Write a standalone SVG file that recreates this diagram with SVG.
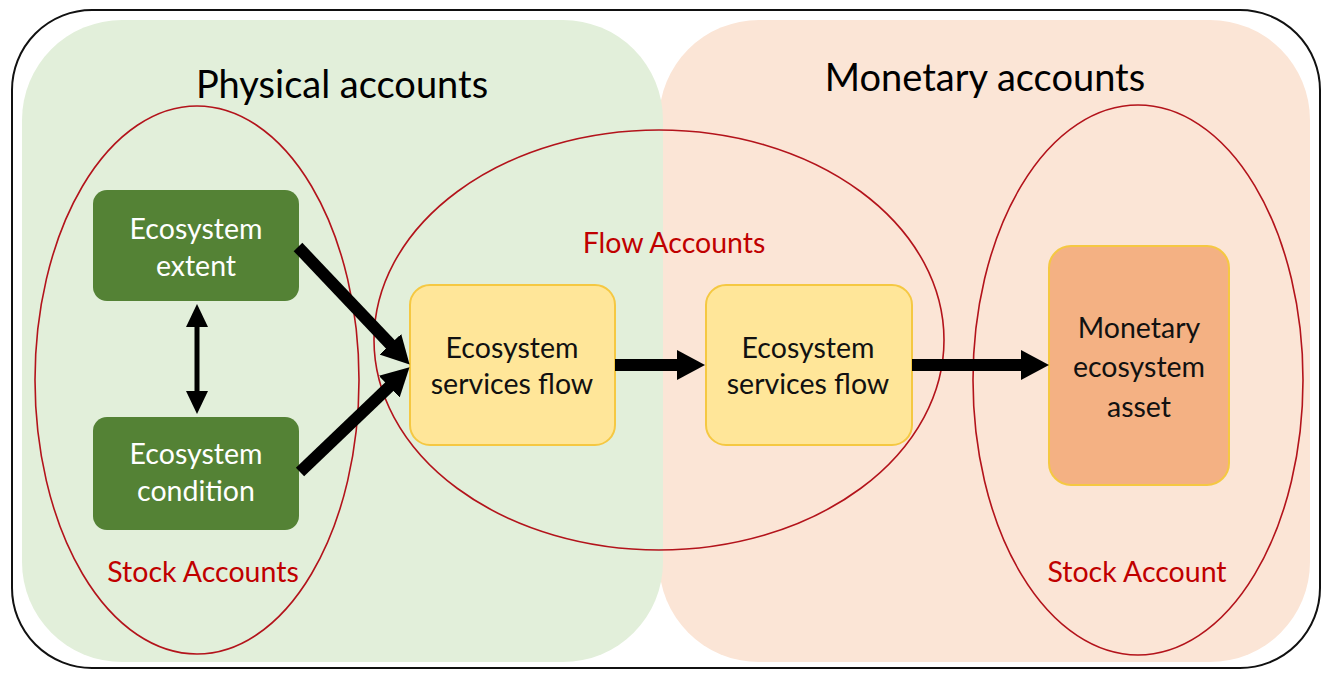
<svg xmlns="http://www.w3.org/2000/svg" width="1328" height="676" viewBox="0 0 1328 676">
<style>
.title{font-family:Lato,"Open Sans",sans-serif;font-size:38px;fill:#000;text-anchor:middle}
.lbl{font-family:Lato,"Open Sans",sans-serif;font-size:28.5px;fill:#c00000;text-anchor:middle}
.wt{font-family:Lato,"Open Sans",sans-serif;font-size:28.5px;fill:#fff;text-anchor:middle}
.bt{font-family:Lato,"Open Sans",sans-serif;font-size:28.5px;fill:#111;text-anchor:middle}
.ell{fill:none;stroke:#b3131b;stroke-width:1.6}
.green{fill:#548235}
.yellow{fill:#ffe699;stroke:#f5c842;stroke-width:2}
.orange{fill:#f4b183;stroke:#f5c842;stroke-width:2}
.thick{stroke:#000;stroke-width:12;fill:none;marker-end:url(#bigHead)}
.thin{stroke:#000;stroke-width:5;fill:none;marker-end:url(#smallHead);marker-start:url(#smallHead)}
</style>
<defs>
<marker id="bigHead" markerUnits="userSpaceOnUse" markerWidth="30" markerHeight="32" refX="1" refY="15" orient="auto" viewBox="0 0 30 32">
<path d="M0,0 L28,15 L0,30 Z" fill="#000"/>
</marker>
<marker id="smallHead" markerUnits="userSpaceOnUse" markerWidth="24" markerHeight="24" refX="1" refY="11" orient="auto-start-reverse" viewBox="0 0 24 24">
<path d="M0,0 L23,11 L0,22 Z" fill="#000"/>
</marker>
</defs>
<rect width="1328" height="676" fill="#fff"/>
<g id="outer">
<rect x="12" y="10" width="1308" height="658" rx="80" ry="80" fill="#fff" stroke="#111" stroke-width="2"/>
</g>
<g id="monetary-panel">
<rect x="659" y="20" width="651" height="642" rx="100" ry="100" fill="#fbe5d6"/>
</g>
<g id="physical-panel">
<rect x="22" y="20" width="641" height="642" rx="100" ry="100" fill="#e2efda"/>
</g>
<text class="title" x="342" y="98">Physical accounts</text>
<text class="title" x="985" y="91">Monetary accounts</text>
<g id="stock-accounts-left">
<ellipse class="ell" cx="197" cy="380" rx="162" ry="274"/>
<text class="lbl" x="203" y="582">Stock Accounts</text>
</g>
<g id="flow-accounts">
<ellipse class="ell" cx="659" cy="340" rx="285" ry="210"/>
<text class="lbl" x="674" y="253">Flow Accounts</text>
</g>
<g id="stock-account-right">
<ellipse class="ell" cx="1138" cy="380" rx="165" ry="275"/>
<text class="lbl" x="1137" y="582">Stock Account</text>
</g>
<g id="ecosystem-extent">
<rect class="green" x="93" y="190" width="206" height="111" rx="14" ry="14"/>
<text class="wt" x="196" y="239">Ecosystem</text>
<text class="wt" x="196" y="276">extent</text>
</g>
<g id="ecosystem-condition">
<rect class="green" x="93" y="417" width="206" height="113" rx="14" ry="14"/>
<text class="wt" x="196" y="464">Ecosystem</text>
<text class="wt" x="196" y="501">condition</text>
</g>
<g id="services-flow-1">
<rect class="yellow" x="410" y="285" width="205" height="160" rx="20" ry="20"/>
<text class="bt" x="512" y="358">Ecosystem</text>
<text class="bt" x="512" y="394">services flow</text>
</g>
<g id="services-flow-2">
<rect class="yellow" x="706" y="285" width="206" height="160" rx="20" ry="20"/>
<text class="bt" x="808" y="358">Ecosystem</text>
<text class="bt" x="808" y="394">services flow</text>
</g>
<g id="monetary-asset">
<rect class="orange" x="1049" y="246" width="180" height="239" rx="22" ry="22"/>
<text class="bt" x="1139" y="338">Monetary</text>
<text class="bt" x="1139" y="377">ecosystem</text>
<text class="bt" x="1139" y="417">asset</text>
</g>
<g id="connectors">
<line class="thick" x1="298" y1="247" x2="391" y2="345"/>
<line class="thick" x1="300" y1="472" x2="390" y2="386"/>
<line class="thick" x1="615" y1="365" x2="678" y2="365"/>
<line class="thick" x1="912" y1="365" x2="1022" y2="365"/>
<line class="thin" x1="197" y1="326" x2="197" y2="392"/>
</g>
</svg>
